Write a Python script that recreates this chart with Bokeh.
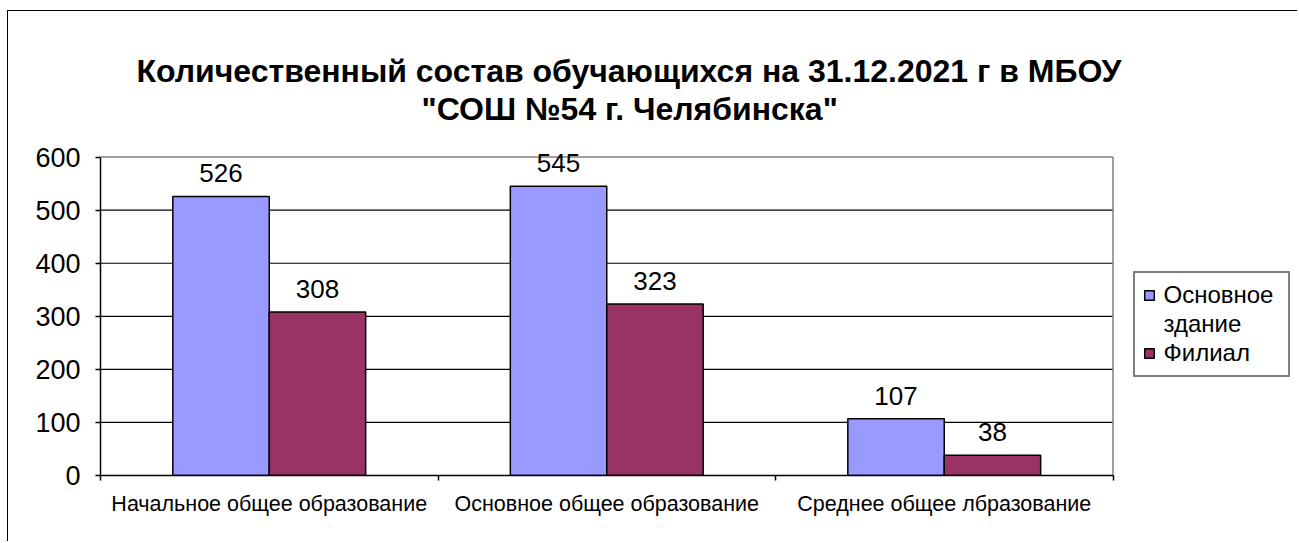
from bokeh.plotting import figure
from bokeh.models import (ColumnDataSource, Range1d, LinearAxis, FixedTicker, LabelSet,
                          Legend, LegendItem, Title)
from bokeh.core.properties import value
from bokeh.transform import dodge
from bokeh.embed import file_html
from bokeh.resources import INLINE

# ---- data ----
categories = ["Начальное общее образование", "Основное общее образование", "Среднее общее лбразование"]
main_building = [526, 545, 107]
branch = [308, 323, 38]
series_names = ["Основное здание", "Филиал"]
y_ticks = [0, 100, 200, 300, 400, 500, 600]
title_lines = ["Количественный состав обучающихся на 31.12.2021 г в МБОУ",
               "\"СОШ №54 г. Челябинска\""]

W, H = 1290, 531
FONT = "Liberation Sans"
BLUE = "#9999FF"
PLUM = "#993366"
BAR_W = 1 / 3.5
HEADROOM = 20            # room above the top tick so value labels are not clipped
LEFT, BOTTOM, TOP = 92, 67, 135
PLOT_PX = 1012.5         # pixel width of the category area; the rest holds the legend
FRAME_PX = W - LEFT

n = len(categories)
centers = [i + 0.5 for i in range(n)]   # category slot centres on a 0..n axis
edges = list(range(n + 1))              # slot boundaries

src = ColumnDataSource(dict(
    pos=centers, main=main_building, branch=branch,
    main_txt=[str(v) for v in main_building],
    branch_txt=[str(v) for v in branch],
))

p = figure(width=W, height=H,
           x_range=Range1d(edges[0], edges[-1] * FRAME_PX / PLOT_PX),
           y_range=Range1d(y_ticks[0], y_ticks[-1] + HEADROOM),
           output_backend="svg", toolbar_location=None,
           x_axis_location=None, y_axis_location="left",
           min_border_left=LEFT, min_border_right=0,
           min_border_top=TOP, min_border_bottom=BOTTOM)

# outer chart frame: only its top and left edges fall inside the window
p.styles = {"margin-left": "7px", "margin-top": "10px",
            "border-left": "1.5px solid black", "border-top": "1.5px solid black"}

p.background_fill_color = "white"
p.border_fill_color = "white"
p.outline_line_color = None
p.xgrid.visible = False
p.ygrid.visible = False

# y axis
yax = p.yaxis[0]
yax.ticker = FixedTicker(ticks=y_ticks)
yax.bounds = (y_ticks[0], y_ticks[-1])
yax.axis_line_color = "black"
yax.axis_line_width = 1.5
yax.major_tick_line_color = "black"
yax.major_tick_line_width = 1.5
yax.major_tick_out = 5
yax.major_tick_in = 0
yax.minor_tick_line_color = None
yax.major_label_text_font = FONT
yax.major_label_text_font_size = "27px"
yax.major_label_text_color = "black"
yax.major_label_standoff = 15

# horizontal gridlines across the category area only
grid_y = y_ticks[1:-1]
p.segment(x0=[edges[0]] * len(grid_y), x1=[edges[-1]] * len(grid_y), y0=grid_y, y1=grid_y,
          line_color="black", line_width=1.2)

# grey plot-area border on the top and right sides
p.segment(x0=[edges[0], edges[-1]], y0=[y_ticks[-1], y_ticks[0]],
          x1=[edges[-1], edges[-1]], y1=[y_ticks[-1], y_ticks[-1]],
          line_color="#808080", line_width=1.5)

# x axes: boundary ticks, then category labels
edge_ax = LinearAxis(ticker=FixedTicker(ticks=edges), bounds=(edges[0], edges[-1]),
                     major_label_overrides={e: "" for e in edges},
                     major_label_text_font_size="1px", major_label_standoff=0,
                     axis_line_color="black", axis_line_width=1.5,
                     major_tick_line_color="black", major_tick_line_width=1.5,
                     major_tick_out=5, major_tick_in=0, minor_tick_line_color=None)
p.add_layout(edge_ax, "below")
cat_ax = LinearAxis(ticker=FixedTicker(ticks=centers),
                    major_label_overrides={c: lab for c, lab in zip(centers, categories)},
                    axis_line_color=None, major_tick_line_color=None,
                    minor_tick_line_color=None,
                    major_label_text_font=FONT, major_label_text_font_size="21.5px",
                    major_label_text_color="black", major_label_standoff=5)
p.add_layout(cat_ax, "below")

# bars
r1 = p.vbar(x=dodge("pos", -BAR_W / 2), top="main", width=BAR_W,
            source=src, fill_color=BLUE, line_color="black", line_width=1.5)
r2 = p.vbar(x=dodge("pos", BAR_W / 2), top="branch", width=BAR_W,
            source=src, fill_color=PLUM, line_color="black", line_width=1.5)
# invisible stand-in so the first series name can wrap onto a second legend line
r_wrap = p.vbar(x=[], top=[], width=BAR_W, fill_alpha=0, line_alpha=0)

# value labels
for col, off in (("main", -BAR_W / 2), ("branch", BAR_W / 2)):
    p.add_layout(LabelSet(x=dodge("pos", off), y=col, text=col + "_txt",
                          source=src, text_align="center", text_baseline="alphabetic",
                          y_offset=14, text_font=value(FONT), text_font_size=value("26px"),
                          text_color="black"))

# legend (inside the frame, to the right of the category area)
first_words = series_names[0].split(" ")
legend = Legend(items=[LegendItem(label=first_words[0], renderers=[r1]),
                       LegendItem(label=first_words[1], renderers=[r_wrap]),
                       LegendItem(label=series_names[1], renderers=[r2])],
                location=(PLOT_PX + 20, 98), border_line_color="black", border_line_width=2,
                label_text_font=FONT, label_text_font_size="24px", label_text_color="black",
                glyph_width=12, glyph_height=12, label_standoff=9, label_width=116,
                padding=8, spacing=1, margin=0, background_fill_color="white")
p.add_layout(legend, "center")

# title: spacer nearest the plot, then second line, then first line
p.add_layout(Title(text=" ", text_font_size="2px", standoff=16), "above")
p.add_layout(Title(text=title_lines[1], align="left", offset=321, standoff=0,
                   text_font=FONT, text_font_size="32px", text_font_style="bold",
                   text_color="black"), "above")
p.add_layout(Title(text=title_lines[0], align="left", offset=36, standoff=0,
                   text_font=FONT, text_font_size="32px", text_font_style="bold",
                   text_color="black"), "above")

open("out.html", "w").write(file_html(p, INLINE))
